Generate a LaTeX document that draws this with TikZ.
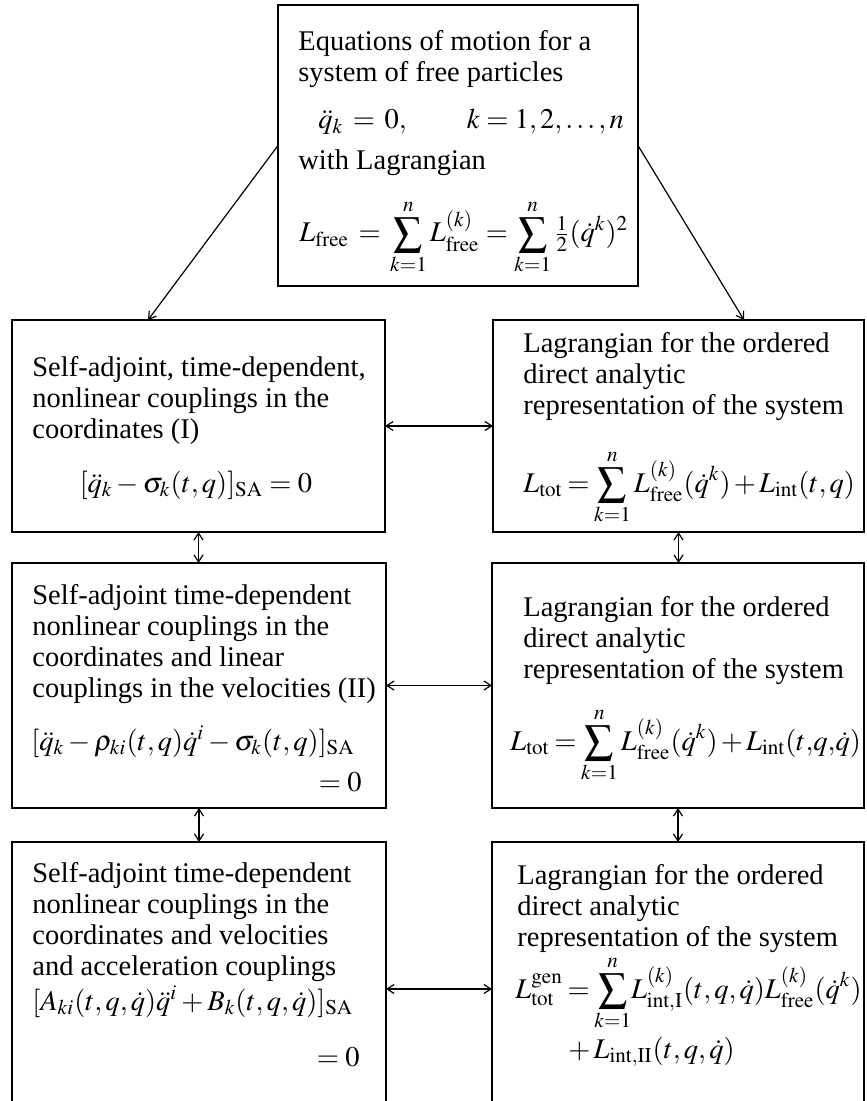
\documentclass[tikz,border=0pt]{standalone}
\usepackage{amsmath}
\usepackage{mathptmx}
\usepackage{fontspec}
\setmainfont{Liberation Serif}
\usetikzlibrary{arrows.meta}
\newcommand{\tightmath}{\thickmuskip=3mu plus 1mu\medmuskip=2mu plus 1mu\thinmuskip=2mu}
\begin{document}
\begin{tikzpicture}[x=0.5pt,y=-0.5pt,
  box/.style={draw, line width=1pt, inner sep=0pt, outer sep=0pt},
  tx/.style={anchor=base west, inner sep=0pt, font=\fontsize{14.25pt}{15pt}\selectfont},
  txc/.style={tx, anchor=base},
  txr/.style={tx, anchor=base east},
  arr/.style={line width=0.6pt, -{Straight Barb[length=3.5pt,width=4.5pt]}},
  darr/.style={line width=0.6pt, {Straight Barb[length=3.5pt,width=4.5pt]}-{Straight Barb[length=3.5pt,width=4.5pt]}}]
\useasboundingbox (0,0) rectangle (866,1101);
\clip (0,0) rectangle (866,1101);
% boxes
\node[box, minimum width=180pt, minimum height=140.5pt] (top) at (458,145.5) {};
\node[box, minimum width=186.5pt, minimum height=106pt] (L1) at (198.5,426) {};
\node[box, minimum width=185.5pt, minimum height=106pt] (R1) at (678.5,426) {};
\node[box, minimum width=187pt, minimum height=122.5pt] (L2) at (199,685.5) {};
\node[box, minimum width=186pt, minimum height=122.5pt] (R2) at (678,685.5) {};
\node[box, minimum width=187pt, minimum height=147pt] (L3) at (199,989) {};
\node[box, minimum width=186pt, minimum height=147pt] (R3) at (678,989) {};
% top texts
\node[tx] (t1) at (298,51) {Equations of motion for a};
\node[tx] (t2) at (298,82) {system of free particles};
\node[tx] (t3) at (318,129) {$\ddot q_k \,=\, 0, \qquad k = 1, 2, \ldots, n$};
\node[tx] (t4) at (298,170) {with Lagrangian};
\node[tx] (t5) at (299,242) {$\displaystyle L_{\mathrm{free}} \,=\, \sum_{k=1}^{n} L^{(k)}_{\mathrm{free}} = \sum_{k=1}^{n} \tfrac{1}{2}(\dot q^k)^2$};
% L1
\node[tx] (a1) at (32,376) {Self-adjoint, time-dependent,};
\node[tx] (a2) at (32,407) {nonlinear couplings in the};
\node[tx] (a3) at (32,438) {coordinates (I)};
\node[txc] (a4) at (196,492) {$[\ddot q_k - \sigma_k(t, q)]_{\mathrm{SA}} = 0$};
% R1
\node[tx] (b1) at (523,352) {Lagrangian for the ordered};
\node[tx] (b2) at (523,383) {direct analytic};
\node[tx] (b3) at (523,414) {representation of the system};
\node[tx] (b4) at (523,492) {$\tightmath\displaystyle L_{\mathrm{tot}} = \sum_{k=1}^{n} L^{(k)}_{\mathrm{free}}(\dot q^k) + L_{\mathrm{int}}(t, q)$};
% L2
\node[tx] (c1) at (32,604) {Self-adjoint time-dependent};
\node[tx] (c2) at (32,635) {nonlinear couplings in the};
\node[tx] (c3) at (32,666) {coordinates and linear};
\node[tx] (c4) at (32,697) {couplings in the velocities (II)};
\node[tx] (c5) at (31,750) {$[\ddot q_k - \rho_{ki}(t, q)\dot q^i - \sigma_k(t, q)]_{\mathrm{SA}}$};
\node[txr] (c6) at (362,791) {$=0$};
% R2
\node[tx] (d1) at (523,616) {Lagrangian for the ordered};
\node[tx] (d2) at (523,647) {direct analytic};
\node[tx] (d3) at (523,678) {representation of the system};
\node[tx] (d4) at (510,750) {$\tightmath\displaystyle L_{\mathrm{tot}} = \sum_{k=1}^{n} L^{(k)}_{\mathrm{free}}(\dot q^k) + L_{\mathrm{int}}(t{,}q{,}\dot q)$};
% L3
\node[tx] (e1) at (32,882) {Self-adjoint time-dependent};
\node[tx] (e2) at (32,913) {nonlinear couplings in the};
\node[tx] (e3) at (32,944) {coordinates and velocities};
\node[tx] (e4) at (32,975) {and acceleration couplings};
\node[tx] (e5) at (32,1010) {$[A_{ki}(t, q, \dot q)\ddot q^i + B_k(t, q, \dot q)]_{\mathrm{SA}}$};
\node[txr] (e6) at (360,1066) {$= 0$};
% R3
\node[tx] (f1) at (517,884) {Lagrangian for the ordered};
\node[tx] (f2) at (517,915) {direct analytic};
\node[tx] (f3) at (517,946) {representation of the system};
\node[tx] (f4) at (515,998) {$\tightmath\displaystyle L^{\mathrm{gen}}_{\mathrm{tot}} = \sum_{k=1}^{n}\! L^{(k)}_{\mathrm{int},\mathrm{I}}(t, q, \dot q)L^{(k)}_{\mathrm{free}}(\dot q^k)$};
\node[tx] (f5) at (568,1058) {$+\,L_{\mathrm{int},\mathrm{II}}(t, q, \dot q)$};
% connectors
\draw[arr] (top.west) -- ([xshift=68pt]L1.north west);
\draw[arr] (top.east) -- ([xshift=-60pt]R1.north east);
\draw[darr] (L1.east) -- (R1.west);
\draw[darr] (L2.east) -- (R2.west);
\draw[darr] (L3.east) -- (R3.west);
\draw[darr] (L1.south) -- (L1.south |- L2.north);
\draw[darr] (L2.south) -- (L2.south |- L3.north);
\draw[darr] (R1.south) -- (R1.south |- R2.north);
\draw[darr] (R2.south) -- (R2.south |- R3.north);
\end{tikzpicture}
\end{document}
